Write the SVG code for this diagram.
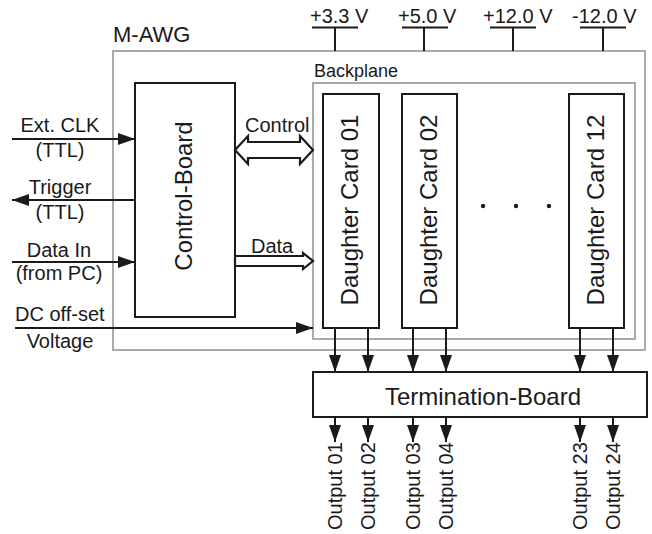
<svg xmlns="http://www.w3.org/2000/svg" width="652" height="534" viewBox="0 0 652 534">
<style>
text{font-family:"Liberation Sans",Arial,sans-serif;fill:#1a1a1a}
.lbl{font-size:20px}
.big{font-size:24px}
.box{fill:#fff;stroke:#1a1a1a;stroke-width:2}
.gray{fill:none;stroke:#aaaaaa;stroke-width:2}
.ln{stroke:#1a1a1a;stroke-width:2;fill:none}
.hollow{fill:#fff;stroke:#1a1a1a;stroke-width:2.2;stroke-linejoin:miter}
</style>
<defs>
<marker id="ah" viewBox="0 0 17 12" refX="17" refY="6" markerWidth="17" markerHeight="12" markerUnits="userSpaceOnUse" orient="auto">
<path d="M0,0 L17,6 L0,12 z" fill="#1a1a1a"/>
</marker>
</defs>

<g id="m-awg">
<rect class="gray" x="113" y="51" width="532" height="299"/>
<text x="113" y="42" style="font-size:22px">M-AWG</text>
</g>

<g id="power">
<text class="lbl" x="310" y="23">+3.3 V</text>
<text class="lbl" x="398" y="23">+5.0 V</text>
<text class="lbl" x="483" y="23">+12.0 V</text>
<text class="lbl" x="572" y="23">-12.0 V</text>
<path class="ln" d="M312,27.5 H358 M335,27.5 V51 M402,27.5 H448 M424,27.5 V51 M490,27.5 H536 M513,27.5 V51 M580,27.5 H626 M603,27.5 V51"/>
</g>

<g id="backplane">
<rect class="gray" x="313" y="83" width="322" height="256"/>
<text x="314" y="77" style="font-size:18px">Backplane</text>
</g>

<g id="control-board">
<rect class="box" x="135" y="83" width="100" height="234"/>
<text class="big" transform="translate(192,196) rotate(-90)" text-anchor="middle">Control-Board</text>
</g>

<g id="card01">
<rect class="box" x="323" y="94" width="56" height="234"/>
<text class="big" transform="translate(358,210) rotate(-90)" text-anchor="middle">Daughter Card 01</text>
</g>
<g id="card02">
<rect class="box" x="402" y="94" width="55" height="234"/>
<text class="big" transform="translate(437,210) rotate(-90)" text-anchor="middle">Daughter Card 02</text>
</g>
<g id="card12">
<rect class="box" x="569" y="94" width="55" height="234"/>
<text class="big" transform="translate(604,210) rotate(-90)" text-anchor="middle">Daughter Card 12</text>
</g>

<g id="dots" fill="#1a1a1a">
<circle cx="483" cy="206" r="2.2"/>
<circle cx="516" cy="206" r="2.2"/>
<circle cx="549" cy="206" r="2.2"/>
</g>

<g id="termination-board">
<rect class="box" x="313" y="372" width="334" height="45"/>
<text class="big" x="483" y="405" text-anchor="middle">Termination-Board</text>
</g>

<g id="inputs">
<text class="lbl" x="60" y="132" text-anchor="middle">Ext. CLK</text>
<text class="lbl" x="60" y="157" text-anchor="middle">(TTL)</text>
<text class="lbl" x="60" y="194" text-anchor="middle">Trigger</text>
<text class="lbl" x="60" y="219" text-anchor="middle">(TTL)</text>
<text class="lbl" x="59" y="257" text-anchor="middle">Data In</text>
<text class="lbl" x="59" y="280" text-anchor="middle">(from PC)</text>
<text class="lbl" x="15" y="321">DC off-set</text>
<text class="lbl" x="60" y="348" text-anchor="middle">Voltage</text>
<text class="lbl" x="245" y="132">Control</text>
<text class="lbl" x="251" y="253">Data</text>
</g>

<g id="outputs">
<text class="lbl" transform="translate(342,530) rotate(-90)">Output 01</text>
<text class="lbl" transform="translate(375,530) rotate(-90)">Output 02</text>
<text class="lbl" transform="translate(420,530) rotate(-90)">Output 03</text>
<text class="lbl" transform="translate(453,530) rotate(-90)">Output 04</text>
<text class="lbl" transform="translate(587,530) rotate(-90)">Output 23</text>
<text class="lbl" transform="translate(620,530) rotate(-90)">Output 24</text>
</g>

<g id="connectors">
<g class="ln">
<path d="M12,139 H135" marker-end="url(#ah)"/>
<path d="M135,200 H12" marker-end="url(#ah)"/>
<path d="M12,262 H135" marker-end="url(#ah)"/>
<path d="M15,328 H313" marker-end="url(#ah)"/>
<path d="M335,328 V372" marker-end="url(#ah)"/>
<path d="M368,328 V372" marker-end="url(#ah)"/>
<path d="M413,328 V372" marker-end="url(#ah)"/>
<path d="M446,328 V372" marker-end="url(#ah)"/>
<path d="M580,328 V372" marker-end="url(#ah)"/>
<path d="M613,328 V372" marker-end="url(#ah)"/>
<path d="M335,417 V442" marker-end="url(#ah)"/>
<path d="M368,417 V442" marker-end="url(#ah)"/>
<path d="M413,417 V442" marker-end="url(#ah)"/>
<path d="M446,417 V442" marker-end="url(#ah)"/>
<path d="M580,417 V442" marker-end="url(#ah)"/>
<path d="M613,417 V442" marker-end="url(#ah)"/>
</g>
<path class="hollow" d="M235,150 L248,136 L248,142 L300,142 L300,136 L313,150 L300,164 L300,158 L248,158 L248,164 Z"/>
<path class="hollow" d="M235,256 L303,256 L303,253 L313,261 L303,269 L303,266 L235,266 Z"/>
</g>
</svg>
